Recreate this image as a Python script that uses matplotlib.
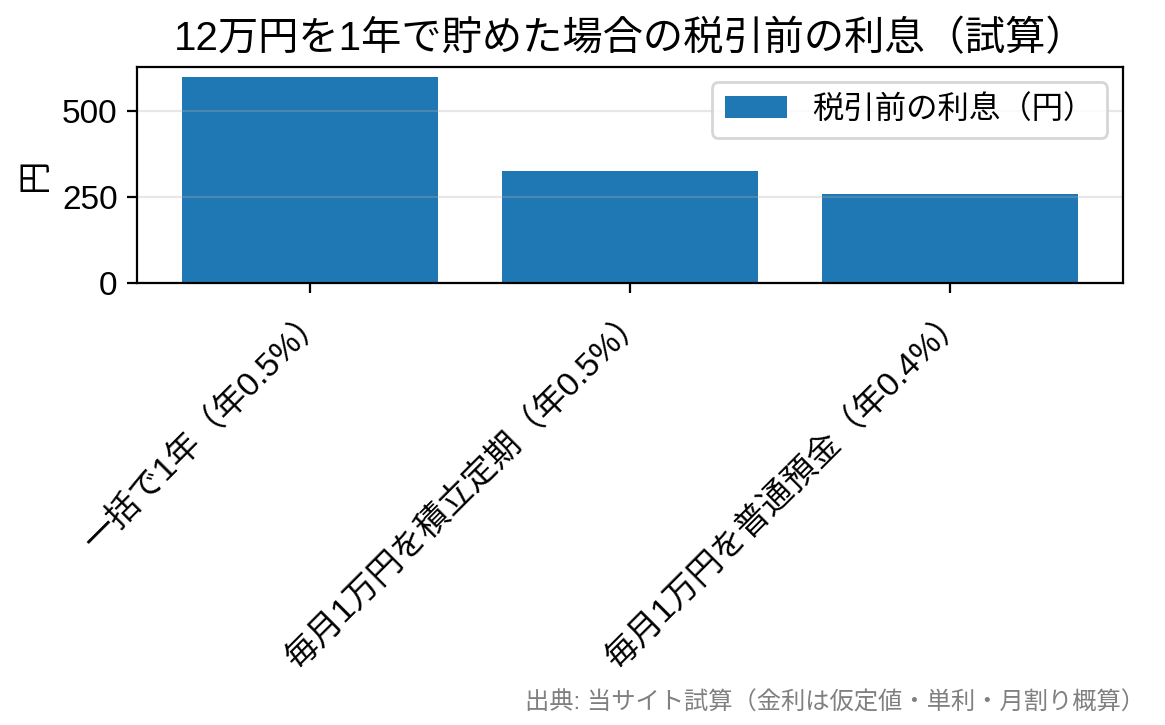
import matplotlib
matplotlib.use('Agg')
import matplotlib.pyplot as plt

plt.rcParams['font.family'] = ['Liberation Sans', 'Noto Sans CJK JP', 'DejaVu Sans']

# 12万円を1年で貯めた場合の利息（税引前）
labels = ['一括で1年（年0.5%）', '毎月1万円を積立定期（年0.5%）', '毎月1万円を普通預金（年0.4%）']
interest = [600, 325, 260]

fig, ax = plt.subplots(figsize=(5.825, 3.625), dpi=200)
fig.subplots_adjust(left=0.1176, right=0.964, top=0.908, bottom=0.61)

ax.bar(labels, interest, color='#1f77b4', label='税引前の利息（円）')
ax.set_title('12万円を1年で貯めた場合の税引前の利息（試算）', fontsize=14.5)
ax.set_ylabel('円', fontsize=12)
ax.tick_params(axis='both', labelsize=12)
ax.set_yticks([0, 250, 500])
plt.setp(ax.get_xticklabels(), rotation=45, ha='right', rotation_mode='anchor')
ax.grid(axis='y', alpha=0.3)
ax.legend(loc='upper right', fontsize=11.3)

fig.text(0.983, 0.015, '出典: 当サイト試算（金利は仮定値・単利・月割り概算）',
         ha='right', va='bottom', fontsize=8.75, color='gray')

fig.savefig('out.png', dpi=200)
